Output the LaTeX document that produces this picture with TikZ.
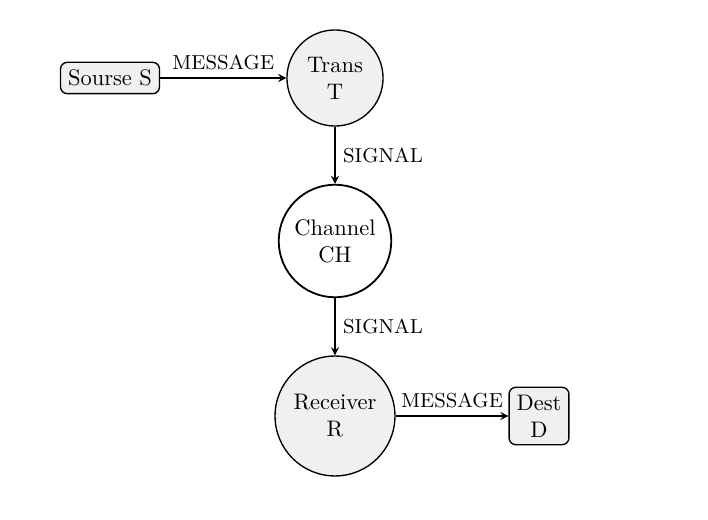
\documentclass[tikz,border=0pt]{standalone}
\usetikzlibrary{arrows}
\begin{document}
\begin{tikzpicture}[x=0.4444pt,y=-0.4444pt,>=stealth]
  \useasboundingbox (0,0) rectangle (708,520);

  \begin{scope}[every node/.style={draw, semithick, fill=black!6, align=center}]
    \node[rounded corners=3pt] (source) at (110,78) {Sourse S};
    \node[circle, minimum size=42.7pt] (trans) at (335,78) {Trans\\T};
    \node[circle, thick, fill=white, minimum size=49.8pt] (channel) at (335,241) {Channel\\CH};
    \node[circle, minimum size=53.3pt] (receiver) at (335,416) {Receiver\\R};
    \node[rounded corners=3pt] (dest) at (539,416) {Dest\\D};
  \end{scope}

  \begin{scope}[every node/.style={font=\small}]
    \draw[->, semithick] (source) -- node[above] {MESSAGE} (trans);
    \draw[->, semithick] (trans) -- node[right] {SIGNAL} (channel);
    \draw[->, semithick] (channel) -- node[right] {SIGNAL} (receiver);
    \draw[->, semithick] (receiver) -- node[above] {MESSAGE} (dest);
  \end{scope}

\end{tikzpicture}
\end{document}
